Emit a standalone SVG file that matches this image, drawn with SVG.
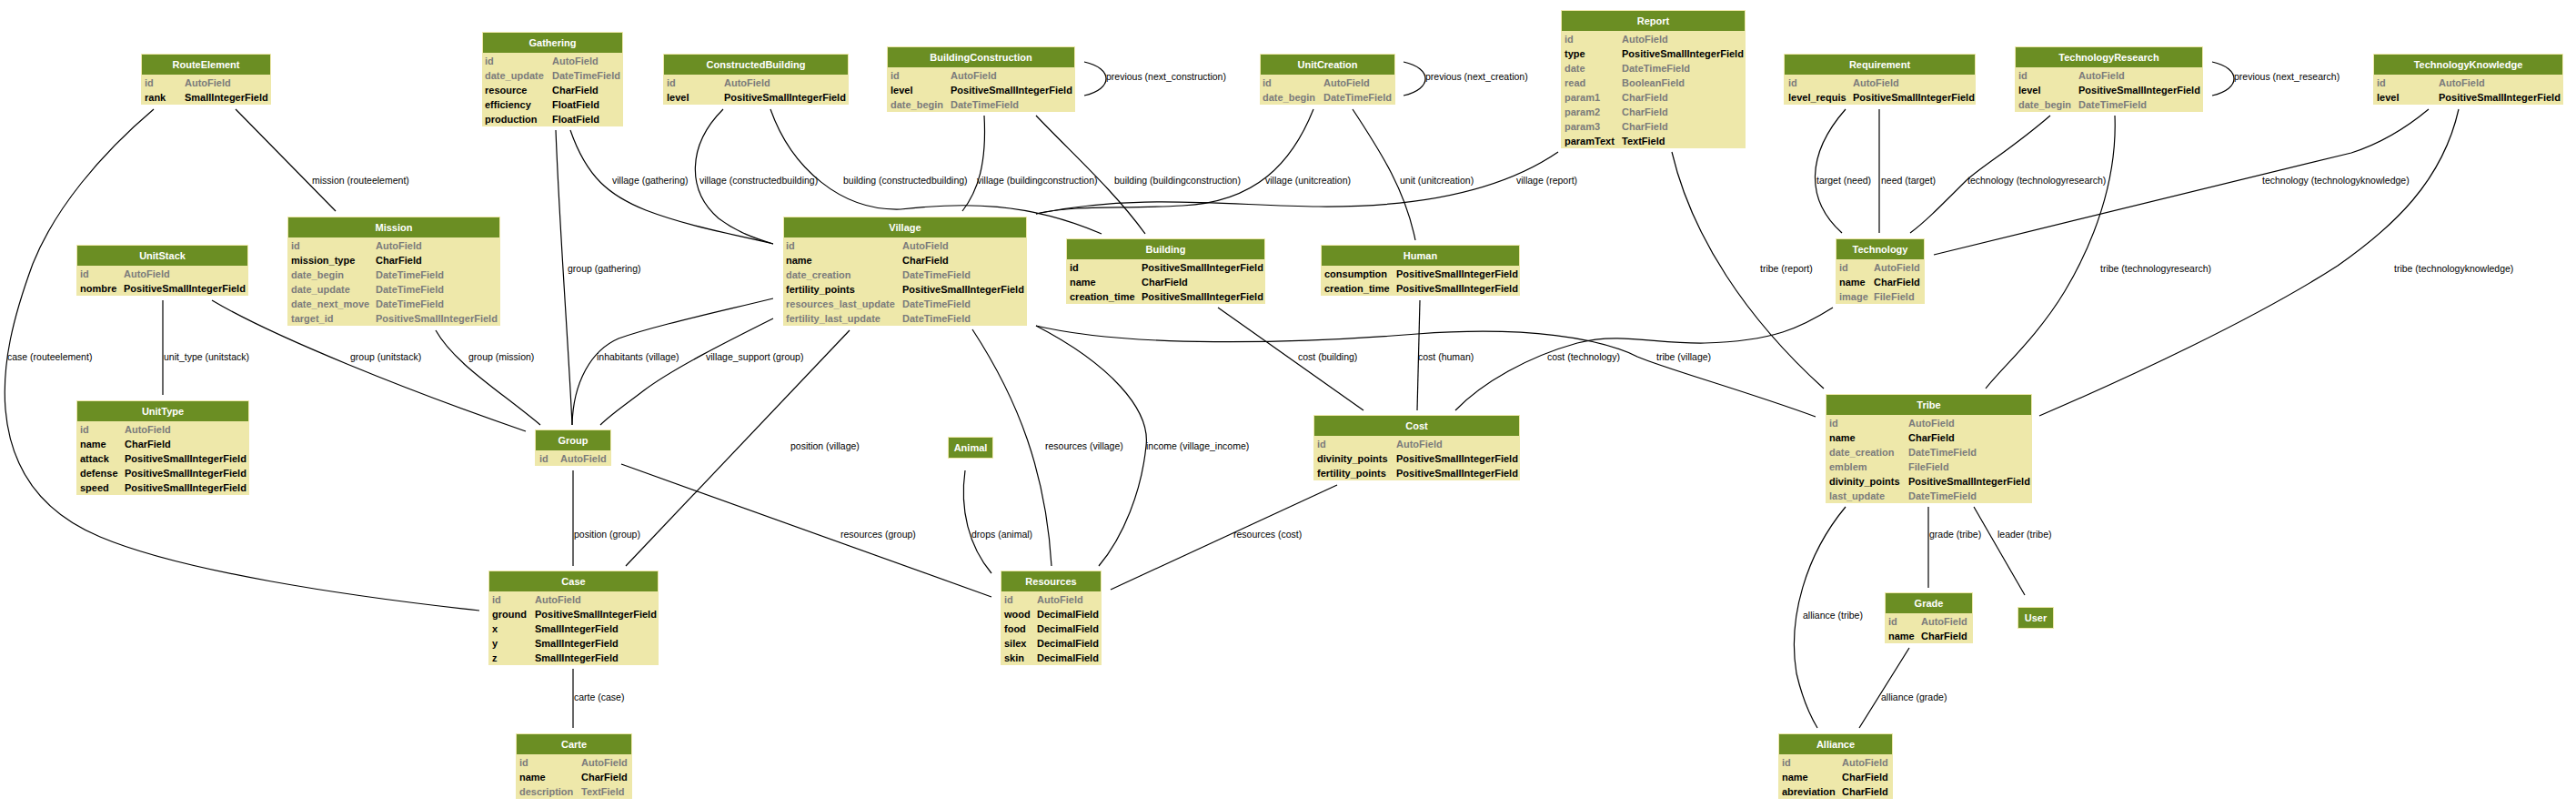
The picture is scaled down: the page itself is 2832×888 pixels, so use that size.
<svg xmlns="http://www.w3.org/2000/svg" width="2832" height="888" viewBox="0 0 2832 888">
<style>
.body{fill:#EEE8AA}
.hdr{fill:#6B8E23}
text{font-family:"Liberation Sans",Arial,Helvetica,sans-serif}
.h{font-size:11px;font-weight:bold;fill:#fff;text-anchor:middle}
.b{font-size:11px;font-weight:bold;fill:#000}
.g{font-size:11px;font-weight:bold;fill:#7B7B7B}
.l{font-size:10.5px;fill:#000}
.e{fill:none;stroke:#000;stroke-width:1.2}
</style>
<rect width="2832" height="888" fill="#fff"/>
<g id="connectors">
<path class="e" d="M169,120 C110,170 60,230 36,290 C14,350 2,400 6,450 C12,520 50,565 110,590 C200,628 380,655 527,671"/>
<path class="e" d="M259,120 L369,232"/>
<path class="e" d="M611,143 C615,250 625,380 629,467"/>
<path class="e" d="M627,143 C645,195 670,215 710,231 C760,250 810,258 850,268"/>
<path class="e" d="M795,120 C755,160 755,210 790,240 C810,255 830,262 850,268"/>
<path class="e" d="M847,120 C870,185 925,232 990,230 C1060,222 1130,222 1211,257"/>
<path class="e" d="M1082,127 C1085,180 1075,210 1058,232"/>
<path class="e" d="M1139,127 C1180,170 1225,210 1259,257"/>
<path class="e" d="M1192,68 C1224,75 1224,98 1192,105"/>
<path class="e" d="M1444,120 C1420,180 1380,222 1300,226 C1230,230 1180,225 1139,235"/>
<path class="e" d="M1713,167 C1650,210 1560,228 1450,227 C1350,226 1250,212 1139,235"/>
<path class="e" d="M1543,68 C1575,75 1575,98 1543,105"/>
<path class="e" d="M1487,120 C1520,170 1545,210 1556,264"/>
<path class="e" d="M1838,167 C1860,260 1920,350 2005,427"/>
<path class="e" d="M2029,120 C1985,170 1985,220 2025,256"/>
<path class="e" d="M2066,120 L2066,256"/>
<path class="e" d="M2254,127 C2210,165 2175,185 2160,200 C2130,230 2115,245 2100,256"/>
<path class="e" d="M2432,68 C2464,75 2464,98 2432,105"/>
<path class="e" d="M2325,127 C2328,200 2300,270 2270,320 C2240,370 2200,405 2183,427"/>
<path class="e" d="M2670,120 C2640,145 2610,160 2585,168 L2126,280"/>
<path class="e" d="M2703,120 C2685,200 2630,250 2570,292 C2480,350 2340,415 2242,457"/>
<path class="e" d="M179,330 L179,434"/>
<path class="e" d="M233,330 C300,370 450,430 578,474"/>
<path class="e" d="M479,363 C500,400 550,430 594,467"/>
<path class="e" d="M850,328 C780,345 720,358 680,372 C650,385 630,420 629,467"/>
<path class="e" d="M850,350 C800,375 740,405 708,429 C690,443 672,455 660,467"/>
<path class="e" d="M630,517 L630,622"/>
<path class="e" d="M683,510 L1090,656"/>
<path class="e" d="M934,363 L688,622"/>
<path class="e" d="M1061,517 C1055,560 1065,600 1090,630"/>
<path class="e" d="M1069,362 C1120,440 1150,520 1156,622"/>
<path class="e" d="M1139,358 C1220,400 1265,450 1260,490 C1255,540 1235,590 1208,622"/>
<path class="e" d="M1139,358 C1240,382 1420,378 1558,367 C1680,358 1760,372 1800,392 C1830,405 1920,430 1996,458"/>
<path class="e" d="M1339,338 L1499,451"/>
<path class="e" d="M1561,330 L1558,451"/>
<path class="e" d="M2015,338 C1980,360 1950,375 1874,377 C1820,378 1780,365 1734,377 C1680,392 1630,420 1600,451"/>
<path class="e" d="M1470,533 L1221,648"/>
<path class="e" d="M2029,557 C1985,610 1965,680 1975,740 C1982,770 1992,790 1998,800"/>
<path class="e" d="M2120,557 L2120,646"/>
<path class="e" d="M2170,557 L2226,654"/>
<path class="e" d="M2099,712 L2044,800"/>
<path class="e" d="M630,735 L630,800"/>
<text class="l" x="343" y="202">mission (routeelement)</text>
<text class="l" x="8" y="396">case (routeelement)</text>
<text class="l" x="624" y="299">group (gathering)</text>
<text class="l" x="673" y="202">village (gathering)</text>
<text class="l" x="769" y="202">village (constructedbuilding)</text>
<text class="l" x="927" y="202">building (constructedbuilding)</text>
<text class="l" x="1074" y="202">village (buildingconstruction)</text>
<text class="l" x="1225" y="202">building (buildingconstruction)</text>
<text class="l" x="1216" y="88">previous (next_construction)</text>
<text class="l" x="1391" y="202">village (unitcreation)</text>
<text class="l" x="1567" y="88">previous (next_creation)</text>
<text class="l" x="1539" y="202">unit (unitcreation)</text>
<text class="l" x="1667" y="202">village (report)</text>
<text class="l" x="1935" y="299">tribe (report)</text>
<text class="l" x="1997" y="202">target (need)</text>
<text class="l" x="2068" y="202">need (target)</text>
<text class="l" x="2163" y="202">technology (technologyresearch)</text>
<text class="l" x="2456" y="88">previous (next_research)</text>
<text class="l" x="2487" y="202">technology (technologyknowledge)</text>
<text class="l" x="2309" y="299">tribe (technologyresearch)</text>
<text class="l" x="2632" y="299">tribe (technologyknowledge)</text>
<text class="l" x="180" y="396">unit_type (unitstack)</text>
<text class="l" x="385" y="396">group (unitstack)</text>
<text class="l" x="515" y="396">group (mission)</text>
<text class="l" x="656" y="396">inhabitants (village)</text>
<text class="l" x="776" y="396">village_support (group)</text>
<text class="l" x="869" y="494">position (village)</text>
<text class="l" x="1149" y="494">resources (village)</text>
<text class="l" x="1260" y="494">income (village_income)</text>
<text class="l" x="631" y="591">position (group)</text>
<text class="l" x="924" y="591">resources (group)</text>
<text class="l" x="1068" y="591">drops (animal)</text>
<text class="l" x="1356" y="591">resources (cost)</text>
<text class="l" x="1427" y="396">cost (building)</text>
<text class="l" x="1559" y="396">cost (human)</text>
<text class="l" x="1701" y="396">cost (technology)</text>
<text class="l" x="1821" y="396">tribe (village)</text>
<text class="l" x="1982" y="680">alliance (tribe)</text>
<text class="l" x="2121" y="591">grade (tribe)</text>
<text class="l" x="2196" y="591">leader (tribe)</text>
<text class="l" x="2068" y="770">alliance (grade)</text>
<text class="l" x="631" y="770">carte (case)</text>
</g>
<g id="RouteElement">
<rect class="body" x="155" y="59" width="143" height="56"/><rect class="hdr" x="156" y="60" width="141" height="22"/>
<text class="h" x="226.5" y="75">RouteElement</text>
<text class="g" x="159" y="95">id</text><text class="g" x="203" y="95">AutoField</text>
<text class="b" x="159" y="111">rank</text><text class="b" x="203" y="111">SmallIntegerField</text>
</g>
<g id="Gathering">
<rect class="body" x="530" y="35" width="155" height="104"/><rect class="hdr" x="531" y="36" width="153" height="22"/>
<text class="h" x="607.5" y="51">Gathering</text>
<text class="g" x="533" y="71">id</text><text class="g" x="607" y="71">AutoField</text>
<text class="g" x="533" y="87">date_update</text><text class="g" x="607" y="87">DateTimeField</text>
<text class="b" x="533" y="103">resource</text><text class="b" x="607" y="103">CharField</text>
<text class="b" x="533" y="119">efficiency</text><text class="b" x="607" y="119">FloatField</text>
<text class="b" x="533" y="135">production</text><text class="b" x="607" y="135">FloatField</text>
</g>
<g id="ConstructedBuilding">
<rect class="body" x="729" y="59" width="204" height="56"/><rect class="hdr" x="730" y="60" width="202" height="22"/>
<text class="h" x="831" y="75">ConstructedBuilding</text>
<text class="g" x="733" y="95">id</text><text class="g" x="796" y="95">AutoField</text>
<text class="b" x="733" y="111">level</text><text class="b" x="796" y="111">PositiveSmallIntegerField</text>
</g>
<g id="BuildingConstruction">
<rect class="body" x="975" y="51" width="207" height="72"/><rect class="hdr" x="976" y="52" width="205" height="22"/>
<text class="h" x="1078.5" y="67">BuildingConstruction</text>
<text class="g" x="979" y="87">id</text><text class="g" x="1045" y="87">AutoField</text>
<text class="b" x="979" y="103">level</text><text class="b" x="1045" y="103">PositiveSmallIntegerField</text>
<text class="g" x="979" y="119">date_begin</text><text class="g" x="1045" y="119">DateTimeField</text>
</g>
<g id="UnitCreation">
<rect class="body" x="1385" y="59" width="149" height="56"/><rect class="hdr" x="1386" y="60" width="147" height="22"/>
<text class="h" x="1459.5" y="75">UnitCreation</text>
<text class="g" x="1388" y="95">id</text><text class="g" x="1455" y="95">AutoField</text>
<text class="g" x="1388" y="111">date_begin</text><text class="g" x="1455" y="111">DateTimeField</text>
</g>
<g id="Report">
<rect class="body" x="1716" y="11" width="203" height="152"/><rect class="hdr" x="1717" y="12" width="201" height="22"/>
<text class="h" x="1817.5" y="27">Report</text>
<text class="g" x="1720" y="47">id</text><text class="g" x="1783" y="47">AutoField</text>
<text class="b" x="1720" y="63">type</text><text class="b" x="1783" y="63">PositiveSmallIntegerField</text>
<text class="g" x="1720" y="79">date</text><text class="g" x="1783" y="79">DateTimeField</text>
<text class="g" x="1720" y="95">read</text><text class="g" x="1783" y="95">BooleanField</text>
<text class="g" x="1720" y="111">param1</text><text class="g" x="1783" y="111">CharField</text>
<text class="g" x="1720" y="127">param2</text><text class="g" x="1783" y="127">CharField</text>
<text class="g" x="1720" y="143">param3</text><text class="g" x="1783" y="143">CharField</text>
<text class="b" x="1720" y="159">paramText</text><text class="b" x="1783" y="159">TextField</text>
</g>
<g id="Requirement">
<rect class="body" x="1961" y="59" width="211" height="56"/><rect class="hdr" x="1962" y="60" width="209" height="22"/>
<text class="h" x="2066.5" y="75">Requirement</text>
<text class="g" x="1966" y="95">id</text><text class="g" x="2037" y="95">AutoField</text>
<text class="b" x="1966" y="111">level_requis</text><text class="b" x="2037" y="111">PositiveSmallIntegerField</text>
</g>
<g id="TechnologyResearch">
<rect class="body" x="2215" y="51" width="207" height="72"/><rect class="hdr" x="2216" y="52" width="205" height="22"/>
<text class="h" x="2318.5" y="67">TechnologyResearch</text>
<text class="g" x="2219" y="87">id</text><text class="g" x="2285" y="87">AutoField</text>
<text class="b" x="2219" y="103">level</text><text class="b" x="2285" y="103">PositiveSmallIntegerField</text>
<text class="g" x="2219" y="119">date_begin</text><text class="g" x="2285" y="119">DateTimeField</text>
</g>
<g id="TechnologyKnowledge">
<rect class="body" x="2609" y="59" width="209" height="56"/><rect class="hdr" x="2610" y="60" width="207" height="22"/>
<text class="h" x="2713.5" y="75">TechnologyKnowledge</text>
<text class="g" x="2613" y="95">id</text><text class="g" x="2681" y="95">AutoField</text>
<text class="b" x="2613" y="111">level</text><text class="b" x="2681" y="111">PositiveSmallIntegerField</text>
</g>
<g id="Mission">
<rect class="body" x="316" y="238" width="234" height="120"/><rect class="hdr" x="317" y="239" width="232" height="22"/>
<text class="h" x="433" y="254">Mission</text>
<text class="g" x="320" y="274">id</text><text class="g" x="413" y="274">AutoField</text>
<text class="b" x="320" y="290">mission_type</text><text class="b" x="413" y="290">CharField</text>
<text class="g" x="320" y="306">date_begin</text><text class="g" x="413" y="306">DateTimeField</text>
<text class="g" x="320" y="322">date_update</text><text class="g" x="413" y="322">DateTimeField</text>
<text class="g" x="320" y="338">date_next_move</text><text class="g" x="413" y="338">DateTimeField</text>
<text class="g" x="320" y="354">target_id</text><text class="g" x="413" y="354">PositiveSmallIntegerField</text>
</g>
<g id="UnitStack">
<rect class="body" x="84" y="269" width="189" height="56"/><rect class="hdr" x="85" y="270" width="187" height="22"/>
<text class="h" x="178.5" y="285">UnitStack</text>
<text class="g" x="88" y="305">id</text><text class="g" x="136" y="305">AutoField</text>
<text class="b" x="88" y="321">nombre</text><text class="b" x="136" y="321">PositiveSmallIntegerField</text>
</g>
<g id="Village">
<rect class="body" x="861" y="238" width="268" height="120"/><rect class="hdr" x="862" y="239" width="266" height="22"/>
<text class="h" x="995" y="254">Village</text>
<text class="g" x="864" y="274">id</text><text class="g" x="992" y="274">AutoField</text>
<text class="b" x="864" y="290">name</text><text class="b" x="992" y="290">CharField</text>
<text class="g" x="864" y="306">date_creation</text><text class="g" x="992" y="306">DateTimeField</text>
<text class="b" x="864" y="322">fertility_points</text><text class="b" x="992" y="322">PositiveSmallIntegerField</text>
<text class="g" x="864" y="338">resources_last_update</text><text class="g" x="992" y="338">DateTimeField</text>
<text class="g" x="864" y="354">fertility_last_update</text><text class="g" x="992" y="354">DateTimeField</text>
</g>
<g id="Building">
<rect class="body" x="1172" y="262" width="219" height="72"/><rect class="hdr" x="1173" y="263" width="217" height="22"/>
<text class="h" x="1281.5" y="278">Building</text>
<text class="b" x="1176" y="298">id</text><text class="b" x="1255" y="298">PositiveSmallIntegerField</text>
<text class="b" x="1176" y="314">name</text><text class="b" x="1255" y="314">CharField</text>
<text class="b" x="1176" y="330">creation_time</text><text class="b" x="1255" y="330">PositiveSmallIntegerField</text>
</g>
<g id="Human">
<rect class="body" x="1452" y="269" width="219" height="56"/><rect class="hdr" x="1453" y="270" width="217" height="22"/>
<text class="h" x="1561.5" y="285">Human</text>
<text class="b" x="1456" y="305">consumption</text><text class="b" x="1535" y="305">PositiveSmallIntegerField</text>
<text class="b" x="1456" y="321">creation_time</text><text class="b" x="1535" y="321">PositiveSmallIntegerField</text>
</g>
<g id="Technology">
<rect class="body" x="2018" y="262" width="98" height="72"/><rect class="hdr" x="2019" y="263" width="96" height="22"/>
<text class="h" x="2067" y="278">Technology</text>
<text class="g" x="2022" y="298">id</text><text class="g" x="2060" y="298">AutoField</text>
<text class="b" x="2022" y="314">name</text><text class="b" x="2060" y="314">CharField</text>
<text class="g" x="2022" y="330">image</text><text class="g" x="2060" y="330">FileField</text>
</g>
<g id="UnitType">
<rect class="body" x="84" y="440" width="190" height="104"/><rect class="hdr" x="85" y="441" width="188" height="22"/>
<text class="h" x="179" y="456">UnitType</text>
<text class="g" x="88" y="476">id</text><text class="g" x="137" y="476">AutoField</text>
<text class="b" x="88" y="492">name</text><text class="b" x="137" y="492">CharField</text>
<text class="b" x="88" y="508">attack</text><text class="b" x="137" y="508">PositiveSmallIntegerField</text>
<text class="b" x="88" y="524">defense</text><text class="b" x="137" y="524">PositiveSmallIntegerField</text>
<text class="b" x="88" y="540">speed</text><text class="b" x="137" y="540">PositiveSmallIntegerField</text>
</g>
<g id="Group">
<rect class="body" x="588" y="472" width="84" height="40"/><rect class="hdr" x="589" y="473" width="82" height="22"/>
<text class="h" x="630" y="488">Group</text>
<text class="g" x="593" y="508">id</text><text class="g" x="616" y="508">AutoField</text>
</g>
<g id="Animal">
<rect class="body" x="1042" y="480" width="50" height="24"/><rect class="hdr" x="1043" y="481" width="48" height="22"/>
<text class="h" x="1067" y="496">Animal</text>
</g>
<g id="Cost">
<rect class="body" x="1444" y="456" width="227" height="72"/><rect class="hdr" x="1445" y="457" width="225" height="22"/>
<text class="h" x="1557.5" y="472">Cost</text>
<text class="g" x="1448" y="492">id</text><text class="g" x="1535" y="492">AutoField</text>
<text class="b" x="1448" y="508">divinity_points</text><text class="b" x="1535" y="508">PositiveSmallIntegerField</text>
<text class="b" x="1448" y="524">fertility_points</text><text class="b" x="1535" y="524">PositiveSmallIntegerField</text>
</g>
<g id="Tribe">
<rect class="body" x="2007" y="433" width="227" height="120"/><rect class="hdr" x="2008" y="434" width="225" height="22"/>
<text class="h" x="2120.5" y="449">Tribe</text>
<text class="g" x="2011" y="469">id</text><text class="g" x="2098" y="469">AutoField</text>
<text class="b" x="2011" y="485">name</text><text class="b" x="2098" y="485">CharField</text>
<text class="g" x="2011" y="501">date_creation</text><text class="g" x="2098" y="501">DateTimeField</text>
<text class="g" x="2011" y="517">emblem</text><text class="g" x="2098" y="517">FileField</text>
<text class="b" x="2011" y="533">divinity_points</text><text class="b" x="2098" y="533">PositiveSmallIntegerField</text>
<text class="g" x="2011" y="549">last_update</text><text class="g" x="2098" y="549">DateTimeField</text>
</g>
<g id="Case">
<rect class="body" x="537" y="627" width="187" height="104"/><rect class="hdr" x="538" y="628" width="185" height="22"/>
<text class="h" x="630.5" y="643">Case</text>
<text class="g" x="541" y="663">id</text><text class="g" x="588" y="663">AutoField</text>
<text class="b" x="541" y="679">ground</text><text class="b" x="588" y="679">PositiveSmallIntegerField</text>
<text class="b" x="541" y="695">x</text><text class="b" x="588" y="695">SmallIntegerField</text>
<text class="b" x="541" y="711">y</text><text class="b" x="588" y="711">SmallIntegerField</text>
<text class="b" x="541" y="727">z</text><text class="b" x="588" y="727">SmallIntegerField</text>
</g>
<g id="Resources">
<rect class="body" x="1100" y="627" width="111" height="104"/><rect class="hdr" x="1101" y="628" width="109" height="22"/>
<text class="h" x="1155.5" y="643">Resources</text>
<text class="g" x="1104" y="663">id</text><text class="g" x="1140" y="663">AutoField</text>
<text class="b" x="1104" y="679">wood</text><text class="b" x="1140" y="679">DecimalField</text>
<text class="b" x="1104" y="695">food</text><text class="b" x="1140" y="695">DecimalField</text>
<text class="b" x="1104" y="711">silex</text><text class="b" x="1140" y="711">DecimalField</text>
<text class="b" x="1104" y="727">skin</text><text class="b" x="1140" y="727">DecimalField</text>
</g>
<g id="Grade">
<rect class="body" x="2072" y="651" width="97" height="56"/><rect class="hdr" x="2073" y="652" width="95" height="22"/>
<text class="h" x="2120.5" y="667">Grade</text>
<text class="g" x="2076" y="687">id</text><text class="g" x="2112" y="687">AutoField</text>
<text class="b" x="2076" y="703">name</text><text class="b" x="2112" y="703">CharField</text>
</g>
<g id="User">
<rect class="body" x="2218" y="667" width="40" height="24"/><rect class="hdr" x="2219" y="668" width="38" height="22"/>
<text class="h" x="2238" y="683">User</text>
</g>
<g id="Alliance">
<rect class="body" x="1955" y="806" width="126" height="72"/><rect class="hdr" x="1956" y="807" width="124" height="22"/>
<text class="h" x="2018" y="822">Alliance</text>
<text class="g" x="1959" y="842">id</text><text class="g" x="2025" y="842">AutoField</text>
<text class="b" x="1959" y="858">name</text><text class="b" x="2025" y="858">CharField</text>
<text class="b" x="1959" y="874">abreviation</text><text class="b" x="2025" y="874">CharField</text>
</g>
<g id="Carte">
<rect class="body" x="567" y="806" width="128" height="72"/><rect class="hdr" x="568" y="807" width="126" height="22"/>
<text class="h" x="631" y="822">Carte</text>
<text class="g" x="571" y="842">id</text><text class="g" x="639" y="842">AutoField</text>
<text class="b" x="571" y="858">name</text><text class="b" x="639" y="858">CharField</text>
<text class="g" x="571" y="874">description</text><text class="g" x="639" y="874">TextField</text>
</g>
</svg>
